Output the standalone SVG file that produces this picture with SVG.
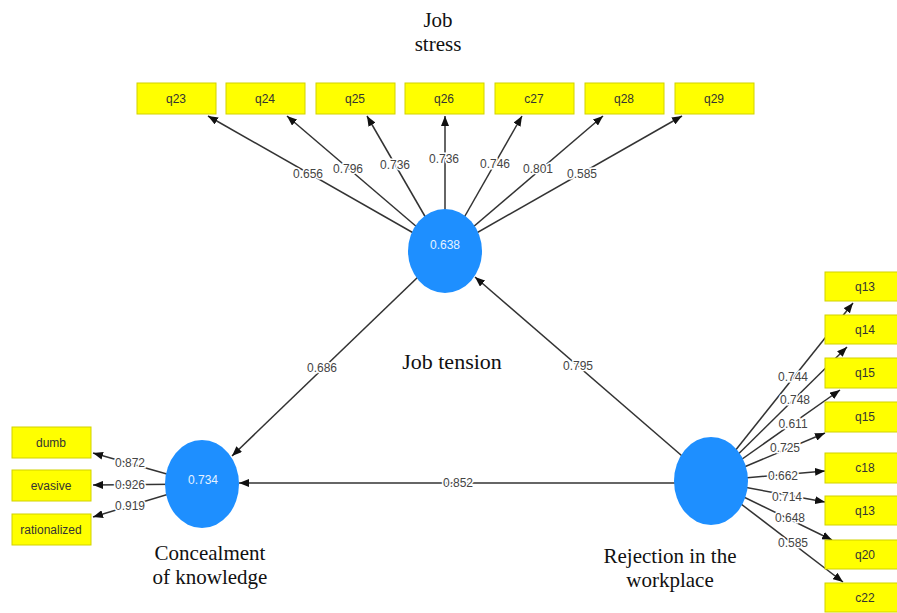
<svg xmlns="http://www.w3.org/2000/svg" width="897" height="613" viewBox="0 0 897 613">
<defs>
<marker id="ah" markerWidth="10" markerHeight="8" refX="10" refY="4" orient="auto" markerUnits="userSpaceOnUse"><path d="M0,0 L10,4 L0,8 z" fill="#111"/></marker>
<style>
.ind{fill:#ffff00;stroke:#d2d200;stroke-width:1}
.it{font-family:"Liberation Sans",Arial,sans-serif;font-size:12px;fill:#333;text-anchor:middle}
.lat{fill:#1e8fff}
.lt{font-family:"Liberation Sans",Arial,sans-serif;font-size:12px;fill:#e6f2ff;text-anchor:middle}
.cn line{stroke:#333;stroke-width:1.5;marker-end:url(#ah)}
.lb{font-family:"Liberation Sans",Arial,sans-serif;font-size:12px;fill:#444;text-anchor:middle;stroke:#fff;stroke-width:3;paint-order:stroke}
.cap{font-family:"Liberation Serif","Times New Roman",serif;font-size:21px;fill:#111;text-anchor:middle}
.cap2{font-family:"Liberation Serif","Times New Roman",serif;font-size:22px;fill:#111;text-anchor:middle}
</style>
</defs>
<rect width="897" height="613" fill="#fff"/>
<g id="connectors" class="cn">
<line x1="445" y1="251" x2="208" y2="116"/>
<line x1="445" y1="251" x2="287" y2="116"/>
<line x1="445" y1="251" x2="367" y2="116"/>
<line x1="445" y1="251" x2="445" y2="116"/>
<line x1="445" y1="251" x2="522" y2="116"/>
<line x1="445" y1="251" x2="603" y2="116"/>
<line x1="445" y1="251" x2="682" y2="116"/>
<line x1="202" y1="484" x2="93" y2="453"/>
<line x1="202" y1="484" x2="93" y2="485"/>
<line x1="202" y1="484" x2="93" y2="517"/>
<line x1="711" y1="481" x2="853" y2="303"/>
<line x1="711" y1="481" x2="847" y2="347"/>
<line x1="711" y1="481" x2="840" y2="390"/>
<line x1="711" y1="481" x2="825" y2="433"/>
<line x1="711" y1="481" x2="825" y2="471"/>
<line x1="711" y1="481" x2="825" y2="502"/>
<line x1="711" y1="481" x2="832" y2="540"/>
<line x1="711" y1="481" x2="843" y2="582"/>
<line x1="445" y1="251" x2="232" y2="456"/>
<line x1="711" y1="481" x2="475" y2="277"/>
<line x1="711" y1="483" x2="239" y2="483"/>
</g>
<g id="loadings">
<text class="lb" x="308" y="178">0.656</text>
<text class="lb" x="348" y="173">0.796</text>
<text class="lb" x="395" y="169">0.736</text>
<text class="lb" x="444" y="163">0.736</text>
<text class="lb" x="495" y="168">0.746</text>
<text class="lb" x="538" y="173">0.801</text>
<text class="lb" x="582" y="178">0.585</text>
<text class="lb" x="130" y="467">0.872</text>
<text class="lb" x="130" y="489">0.926</text>
<text class="lb" x="130" y="510">0.919</text>
<text class="lb" x="793" y="381">0.744</text>
<text class="lb" x="795" y="404">0.748</text>
<text class="lb" x="793" y="428">0.611</text>
<text class="lb" x="785" y="452">0.725</text>
<text class="lb" x="783" y="480">0.662</text>
<text class="lb" x="787" y="501">0.714</text>
<text class="lb" x="790" y="522">0.648</text>
<text class="lb" x="793" y="547">0.585</text>
<text class="lb" x="322" y="372">0.686</text>
<text class="lb" x="578" y="370">0.795</text>
<text class="lb" x="458" y="487">0.852</text>
</g>
<g id="job-tension">
<ellipse class="lat" cx="445" cy="251" rx="37" ry="42"/>
<text class="lt" x="445" y="249">0.638</text>
<text class="cap2" x="452" y="369">Job tension</text>
</g>
<g id="job-stress-label">
<text class="cap" x="438" y="27">Job</text>
<text class="cap" x="438" y="51">stress</text>
</g>
<g id="concealment">
<ellipse class="lat" cx="202" cy="484" rx="37" ry="44"/>
<text class="lt" x="203" y="484">0.734</text>
<text class="cap" x="210" y="560">Concealment</text>
<text class="cap" x="210" y="584">of knowledge</text>
</g>
<g id="rejection">
<ellipse class="lat" cx="711" cy="481" rx="37" ry="44"/>
<text class="cap" x="670" y="563">Rejection in the</text>
<text class="cap" x="670" y="587">workplace</text>
</g>
<g id="q23"><rect class="ind" x="137" y="83" width="79" height="31"/><text class="it" x="176" y="103">q23</text></g>
<g id="q24"><rect class="ind" x="226" y="83" width="79" height="31"/><text class="it" x="265" y="103">q24</text></g>
<g id="q25"><rect class="ind" x="316" y="83" width="79" height="31"/><text class="it" x="355" y="103">q25</text></g>
<g id="q26"><rect class="ind" x="405" y="83" width="79" height="31"/><text class="it" x="444" y="103">q26</text></g>
<g id="c27"><rect class="ind" x="495" y="83" width="79" height="31"/><text class="it" x="534" y="103">c27</text></g>
<g id="q28"><rect class="ind" x="585" y="83" width="79" height="31"/><text class="it" x="624" y="103">q28</text></g>
<g id="q29"><rect class="ind" x="675" y="83" width="79" height="31"/><text class="it" x="714" y="103">q29</text></g>
<g id="dumb"><rect class="ind" x="12" y="427" width="79" height="31"/><text class="it" x="51" y="447">dumb</text></g>
<g id="evasive"><rect class="ind" x="12" y="470" width="79" height="31"/><text class="it" x="51" y="490">evasive</text></g>
<g id="rationalized"><rect class="ind" x="12" y="514" width="79" height="31"/><text class="it" x="51" y="534">rationalized</text></g>
<g id="q13"><rect class="ind" x="825" y="272" width="80" height="29"/><text class="it" x="865" y="291">q13</text></g>
<g id="q14"><rect class="ind" x="825" y="315" width="80" height="29"/><text class="it" x="865" y="334">q14</text></g>
<g id="q15"><rect class="ind" x="825" y="358" width="80" height="30"/><text class="it" x="865" y="377">q15</text></g>
<g id="q15b"><rect class="ind" x="825" y="402" width="80" height="30"/><text class="it" x="865" y="421">q15</text></g>
<g id="c18"><rect class="ind" x="825" y="453" width="80" height="30"/><text class="it" x="865" y="472">c18</text></g>
<g id="q13b"><rect class="ind" x="825" y="496" width="80" height="29"/><text class="it" x="865" y="515">q13</text></g>
<g id="q20"><rect class="ind" x="825" y="540" width="80" height="29"/><text class="it" x="865" y="559">q20</text></g>
<g id="c22"><rect class="ind" x="825" y="583" width="80" height="29"/><text class="it" x="865" y="602">c22</text></g>
</svg>
